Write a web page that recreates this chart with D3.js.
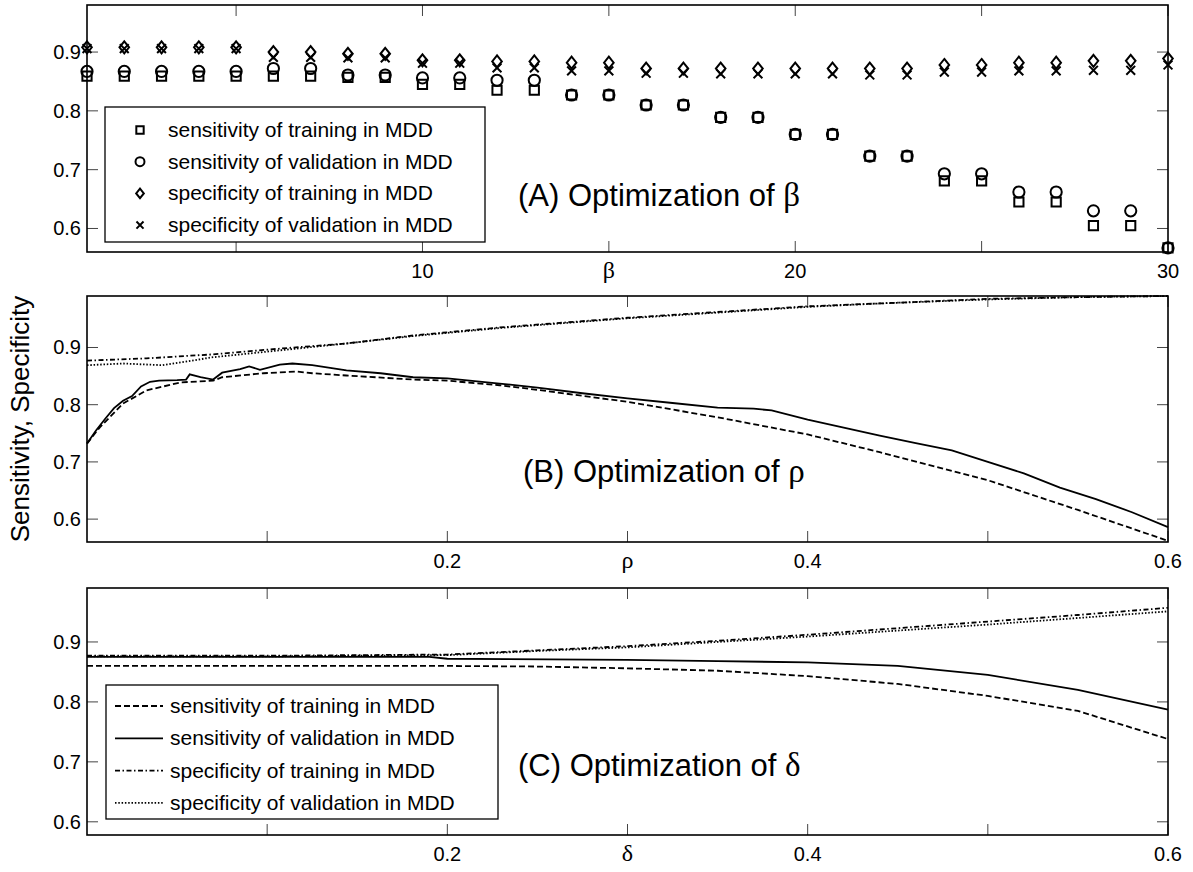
<!DOCTYPE html>
<html>
<head>
<meta charset="utf-8">
<script src="https://cdn.jsdelivr.net/npm/d3@7"></script>
<style>
  body { margin: 0; background: #fff; }
  svg { display: block; }
  text { font-family: "Liberation Sans", Arial, Helvetica, sans-serif; fill: #000; }
</style>
</head>
<body>
<svg id="chart" width="1193" height="872"></svg>
<script>
// ---------- Panel A: optimization of beta (markers) ----------
const betaValues = [1,2,3,4,5,6,7,8,9,10,11,12,13,14,15,16,17,18,19,20,21,22,23,24,25,26,27,28,29,30];
const sensTrainBeta = [0.859,0.859,0.859,0.859,0.859,0.859,0.859,0.857,0.857,0.845,0.845,0.835,0.835,0.827,0.827,0.810,0.810,0.789,0.789,0.760,0.760,0.723,0.723,0.681,0.681,0.645,0.645,0.605,0.605,0.567];
const sensValBeta   = [0.867,0.867,0.867,0.867,0.867,0.872,0.872,0.861,0.861,0.856,0.856,0.852,0.852,0.827,0.827,0.810,0.810,0.789,0.789,0.760,0.760,0.723,0.723,0.693,0.693,0.662,0.662,0.630,0.630,0.567];
const specTrainBeta = [0.908,0.908,0.908,0.908,0.908,0.900,0.900,0.897,0.897,0.886,0.886,0.884,0.884,0.882,0.882,0.872,0.872,0.872,0.872,0.872,0.872,0.872,0.872,0.878,0.878,0.882,0.882,0.885,0.885,0.889];
const specValBeta   = [0.906,0.906,0.906,0.906,0.906,0.891,0.891,0.890,0.890,0.881,0.881,0.873,0.873,0.868,0.868,0.864,0.864,0.863,0.863,0.863,0.863,0.861,0.861,0.866,0.866,0.868,0.868,0.869,0.869,0.878];

// ---------- Panel B: optimization of rho (curves) ----------
const rhoSensValX   = [0,0.005,0.01,0.015,0.02,0.025,0.03,0.035,0.04,0.05,0.055,0.057,0.063,0.07,0.075,0.085,0.09,0.096,0.107,0.114,0.125,0.144,0.163,0.181,0.2,0.229,0.25,0.275,0.3,0.325,0.35,0.37,0.38,0.4,0.42,0.44,0.46,0.48,0.5,0.52,0.54,0.56,0.58,0.6];
const rhoSensValY   = [0.732,0.755,0.775,0.794,0.807,0.815,0.832,0.840,0.842,0.843,0.844,0.853,0.848,0.844,0.856,0.862,0.867,0.861,0.870,0.872,0.869,0.860,0.855,0.848,0.846,0.837,0.830,0.820,0.811,0.803,0.795,0.793,0.790,0.774,0.760,0.746,0.733,0.720,0.700,0.680,0.655,0.635,0.612,0.586];
const rhoSensTrainX = [0,0.007,0.02,0.033,0.052,0.07,0.075,0.098,0.116,0.125,0.144,0.181,0.2,0.229,0.25,0.3,0.35,0.4,0.44,0.5,0.55,0.6];
const rhoSensTrainY = [0.732,0.760,0.802,0.825,0.839,0.842,0.848,0.855,0.858,0.855,0.851,0.844,0.842,0.834,0.826,0.805,0.778,0.748,0.717,0.668,0.616,0.562];
const rhoSpecTrainX = [0,0.033,0.07,0.107,0.144,0.181,0.229,0.3,0.35,0.4,0.44,0.5,0.55,0.6];
const rhoSpecTrainY = [0.877,0.881,0.888,0.898,0.907,0.921,0.935,0.952,0.962,0.972,0.977,0.985,0.988,0.990];
const rhoSpecValX   = [0,0.02,0.042,0.07,0.107,0.144,0.181,0.229,0.3,0.35,0.4,0.44,0.5,0.55,0.6];
const rhoSpecValY   = [0.869,0.872,0.869,0.883,0.895,0.907,0.920,0.934,0.951,0.961,0.971,0.977,0.984,0.988,0.990];

// ---------- Panel C: optimization of delta (curves) ----------
const deltaSensTrainX = [0,0.1,0.2,0.25,0.3,0.35,0.4,0.45,0.5,0.55,0.6];
const deltaSensTrainY = [0.860,0.860,0.860,0.859,0.856,0.852,0.843,0.830,0.810,0.785,0.738];
const deltaSensValX   = [0,0.1,0.19,0.2,0.3,0.35,0.4,0.45,0.5,0.55,0.6];
const deltaSensValY   = [0.875,0.875,0.875,0.872,0.870,0.868,0.866,0.860,0.845,0.820,0.787];
const deltaSpecTrainX = [0,0.1,0.2,0.25,0.3,0.35,0.4,0.45,0.5,0.55,0.6];
const deltaSpecTrainY = [0.877,0.877,0.879,0.886,0.893,0.902,0.912,0.923,0.934,0.945,0.957];
const deltaSpecValX   = [0,0.1,0.2,0.25,0.3,0.35,0.4,0.45,0.5,0.55,0.6];
const deltaSpecValY   = [0.876,0.876,0.878,0.885,0.891,0.900,0.909,0.919,0.929,0.940,0.951];

// ---------- Axis tick labels ----------
const betaTicks  = [5,10,15,20,25,30];
const betaTickLabels  = ["", "10", "\u03B2", "20", "", "30"];
const rateTicks  = [0.1,0.2,0.3,0.4,0.5,0.6];
const rhoTickLabels   = ["", "0.2", "\u03C1", "0.4", "", "0.6"];
const deltaTickLabels = ["", "0.2", "\u03B4", "0.4", "", "0.6"];
const yTicks = [0.6,0.7,0.8,0.9];
const legendLabels = ["sensitivity of training in MDD","sensitivity of validation in MDD","specificity of training in MDD","specificity of validation in MDD"];

// ---------- Layout ----------
const svg = d3.select("#chart");
const left = 87, right = 1168;
const panels = [
  { top: 5,   bottom: 252, yDomain: [0.56, 0.98] },
  { top: 296, bottom: 542, yDomain: [0.56, 0.99] },
  { top: 588, bottom: 835, yDomain: [0.578, 0.99] }
];
const tickLen = 11;
const greekFont = '"Liberation Serif", "Times New Roman", serif';

function drawFrame(p, x, y, ticks, labels) {
  const g = svg.append("g");
  // inward ticks on all four sides
  ticks.forEach(t => {
    const px = x(t);
    g.append("line").attr("x1", px).attr("x2", px).attr("y1", p.bottom).attr("y2", p.bottom - tickLen)
      .attr("stroke", "#444").attr("stroke-width", 1);
    g.append("line").attr("x1", px).attr("x2", px).attr("y1", p.top).attr("y2", p.top + tickLen)
      .attr("stroke", "#444").attr("stroke-width", 1);
  });
  yTicks.forEach(t => {
    const py = y(t);
    g.append("line").attr("x1", left).attr("x2", left + tickLen).attr("y1", py).attr("y2", py)
      .attr("stroke", "#444").attr("stroke-width", 1);
    g.append("line").attr("x1", right).attr("x2", right - tickLen).attr("y1", py).attr("y2", py)
      .attr("stroke", "#444").attr("stroke-width", 1);
    g.append("text").attr("x", 81).attr("y", py + 7).attr("text-anchor", "end")
      .attr("font-size", 20).text(t.toFixed(1));
  });
  ticks.forEach((t, i) => {
    const lab = labels[i];
    if (!lab) return;
    const isGreek = /[\u0370-\u03FF]/.test(lab);
    g.append("text").attr("x", x(t)).attr("y", p.bottom + 26).attr("text-anchor", "middle")
      .attr("font-size", isGreek ? 24 : 20)
      .style("font-family", isGreek ? greekFont : null)
      .text(lab);
  });
  g.append("rect").attr("x", left).attr("y", p.top).attr("width", right - left).attr("height", p.bottom - p.top)
    .attr("fill", "none").attr("stroke", "#000").attr("stroke-width", 1.6);
  return g;
}

function title(x, yPos, prefix, greek) {
  const t = svg.append("text").attr("x", x).attr("y", yPos).attr("font-size", 31);
  t.append("tspan").text(prefix);
  t.append("tspan").style("font-family", greekFont).attr("font-size", 33).text(greek);
}

// ---------- Marker paths ----------
const markers = {
  square:  s => `M${-s},${-s}H${s}V${s}H${-s}Z`,
  circle:  s => `M${s},0A${s},${s} 0 1,1 ${-s},0A${s},${s} 0 1,1 ${s},0Z`,
  diamond: s => `M0,${-s}L${s*0.8},0L0,${s}L${-s*0.8},0Z`,
  cross:   s => `M${-s},${-s}L${s},${s}M${-s},${s}L${s},${-s}`
};
const markerSize = { square: 4.6, circle: 5.6, diamond: 6, cross: 4.4 };

// ---------- Panel A ----------
{
  const p = panels[0];
  const x = d3.scaleLinear().domain([1, 30]).range([left, right]);
  const y = d3.scaleLinear().domain(p.yDomain).range([p.bottom, p.top]);
  drawFrame(p, x, y, betaTicks, betaTickLabels);
  const seriesA = [
    { vals: sensTrainBeta, m: "square" },
    { vals: sensValBeta,   m: "circle" },
    { vals: specTrainBeta, m: "diamond" },
    { vals: specValBeta,   m: "cross" }
  ];
  seriesA.forEach(s => {
    svg.append("g").selectAll("path").data(betaValues).join("path")
      .attr("transform", (d, i) => `translate(${x(d)},${y(s.vals[i])})`)
      .attr("d", markers[s.m](markerSize[s.m]))
      .attr("fill", "none").attr("stroke", "#000").attr("stroke-width", 2);
  });
  // legend
  const lg = svg.append("g");
  lg.append("rect").attr("x", 105).attr("y", 107).attr("width", 380).attr("height", 135)
    .attr("fill", "#fff").attr("stroke", "#000").attr("stroke-width", 1.3);
  seriesA.forEach((s, i) => {
    const cy = 130 + i * 31.7;
    lg.append("path").attr("transform", `translate(140,${cy})`)
      .attr("d", markers[s.m](markerSize[s.m] * 0.8))
      .attr("fill", "none").attr("stroke", "#000").attr("stroke-width", 2);
    lg.append("text").attr("x", 168).attr("y", cy + 7).attr("font-size", 21).text(legendLabels[i]);
  });
  title(518, 206, "(A) Optimization of ", "\u03B2");
}

// ---------- Line styles for panels B and C ----------
const lineStyles = [
  { dash: "6,3" },             // sensitivity of training
  { dash: null },              // sensitivity of validation
  { dash: "5,2.5,1.5,2.5" },   // specificity of training
  { dash: "1.5,1.8" }          // specificity of validation
];

function drawCurves(p, x, y, series) {
  const line = d3.line().x(d => x(d[0])).y(d => y(d[1]));
  series.forEach((s, i) => {
    const pts = s.xs.map((v, k) => [v, s.ys[k]]);
    svg.append("path").datum(pts).attr("d", line)
      .attr("fill", "none").attr("stroke", "#000").attr("stroke-width", 1.8)
      .attr("stroke-dasharray", lineStyles[i].dash);
  });
}

// ---------- Panel B ----------
{
  const p = panels[1];
  const x = d3.scaleLinear().domain([0, 0.6]).range([left, right]);
  const y = d3.scaleLinear().domain(p.yDomain).range([p.bottom, p.top]);
  drawFrame(p, x, y, rateTicks, rhoTickLabels);
  drawCurves(p, x, y, [
    { xs: rhoSensTrainX, ys: rhoSensTrainY },
    { xs: rhoSensValX,   ys: rhoSensValY },
    { xs: rhoSpecTrainX, ys: rhoSpecTrainY },
    { xs: rhoSpecValX,   ys: rhoSpecValY }
  ]);
  title(523, 482, "(B) Optimization of ", "\u03C1");
}

// ---------- Panel C ----------
{
  const p = panels[2];
  const x = d3.scaleLinear().domain([0, 0.6]).range([left, right]);
  const y = d3.scaleLinear().domain(p.yDomain).range([p.bottom, p.top]);
  drawFrame(p, x, y, rateTicks, deltaTickLabels);
  drawCurves(p, x, y, [
    { xs: deltaSensTrainX, ys: deltaSensTrainY },
    { xs: deltaSensValX,   ys: deltaSensValY },
    { xs: deltaSpecTrainX, ys: deltaSpecTrainY },
    { xs: deltaSpecValX,   ys: deltaSpecValY }
  ]);
  const lg = svg.append("g");
  lg.append("rect").attr("x", 106).attr("y", 685).attr("width", 392).attr("height", 134)
    .attr("fill", "#fff").attr("stroke", "#000").attr("stroke-width", 1.3);
  legendLabels.forEach((lab, i) => {
    const cy = 706 + i * 32.3;
    lg.append("line").attr("x1", 115).attr("x2", 163).attr("y1", cy).attr("y2", cy)
      .attr("stroke", "#000").attr("stroke-width", 1.8).attr("stroke-dasharray", lineStyles[i].dash);
    lg.append("text").attr("x", 170).attr("y", cy + 7).attr("font-size", 21).text(lab);
  });
  title(518, 776, "(C) Optimization of ", "\u03B4");
}

// ---------- Shared y-axis label ----------
svg.append("text").attr("transform", "translate(29,419) rotate(-90)")
  .attr("text-anchor", "middle").attr("font-size", 26).text("Sensitivity, Specificity");
</script>
</body>
</html>
